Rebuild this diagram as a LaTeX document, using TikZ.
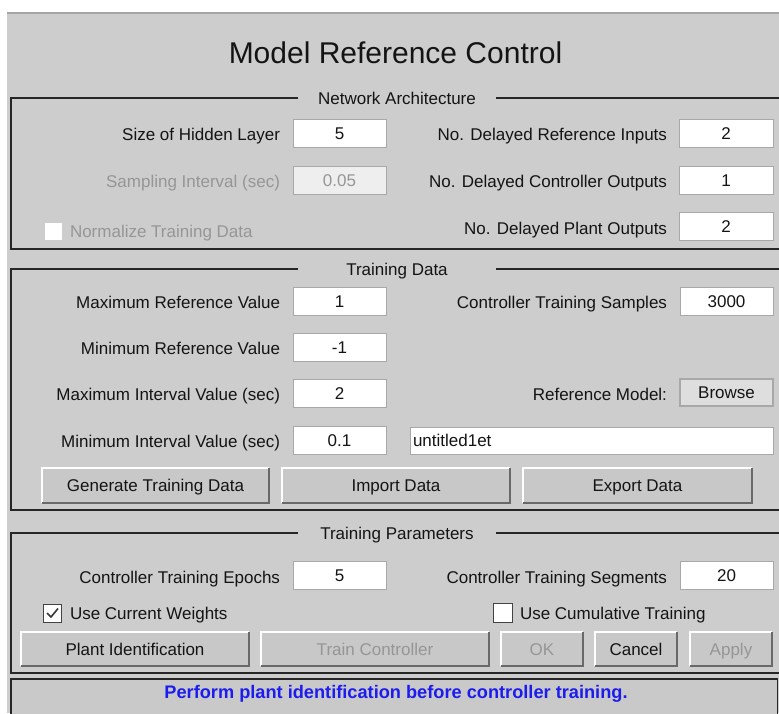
\documentclass[tikz,border=0pt]{standalone}
\usepackage{fontspec}
\setmainfont{Liberation Sans}
\definecolor{panel}{RGB}{205,205,205}
\definecolor{statusbg}{RGB}{201,201,201}
\definecolor{frameline}{RGB}{38,38,38}
\definecolor{labeltext}{RGB}{20,20,20}
\definecolor{disabledtext}{RGB}{150,150,150}
\definecolor{fieldborder}{RGB}{168,168,168}
\definecolor{fielddisabled}{RGB}{238,238,238}
\definecolor{btnface}{RGB}{200,200,200}
\definecolor{btnshadow}{RGB}{105,105,105}
\definecolor{browseface}{RGB}{222,222,222}
\definecolor{statusblue}{RGB}{28,28,238}
\definecolor{topline}{RGB}{165,165,165}
\begin{document}
\begin{tikzpicture}[x=1pt,y=-1pt,
  every node/.style={inner sep=0pt, outer sep=0pt},
  lbl/.style={font=\fontsize{17}{20}\selectfont, text height=12.2pt, text depth=0pt, text=labeltext},
  lblr/.style={lbl, anchor=east},
  lbll/.style={lbl, anchor=west},
  dis/.style={text=disabledtext},
  field/.style={lbl, draw=fieldborder, fill=white, line width=1pt, minimum width=93pt, minimum height=28pt},
  disfield/.style={field, fill=fielddisabled, text=disabledtext},
  frame/.style={draw=frameline, line width=1.6pt},
  frametitle/.style={lbl, fill=panel, minimum width=198pt},
  btn/.style={lbl, fill=btnface, minimum height=34pt},
  hilite/.style={draw=white, line width=1.5pt},
  shadowline/.style={draw=btnshadow, line width=1.5pt},
  chk/.style={fill=white, minimum size=18pt},
  chkon/.style={chk, draw=labeltext!80, line width=1pt}
]
\useasboundingbox (0,0) rectangle (779,713);
\clip (0,0) rectangle (779,713);
\fill[white] (0,0) rectangle (779,713);
\fill[panel] (7,13) rectangle (779,713);
\draw[draw=topline, line width=2pt] (7,13) -- (779,13);

% title
\node[lbl, font=\fontsize{30}{35}\selectfont, text height=21.5pt] (title) at (395.5,53) {Model Reference Control};

% frames
\draw[frame] (11,98) rectangle (785,249);
\draw[frame] (11,269) rectangle (785,510);
\draw[frame] (11,533) rectangle (785,673);
\draw[frame, fill=statusbg] (11,679) rectangle (777.5,725);
\node[frametitle] (netarch) at (397,98) {Network Architecture};
\node[frametitle] (trdata) at (397,269) {Training Data};
\node[frametitle] (trparam) at (397,533) {Training Parameters};

% ---------- Network Architecture ----------
\node[lblr] (lhid) at (280,134) {Size of Hidden Layer};
\node[field] (hid) at (339.5,133) {5};
\node[lblr, dis] (lsamp) at (280,181) {Sampling Interval (sec)};
\node[disfield] (samp) at (339.5,180) {0.05};
\node[chk, minimum size=17pt] (norm) at (53.5,231) {};
\node[lbll, dis] (lnorm) at (70,231) {Normalize Training Data};

\node[lblr] (ldri) at (667,134) {No. Delayed Reference Inputs};
\node[field, minimum width=94pt] (dri) at (726,133) {2};
\node[lblr] (ldco) at (667,181) {No. Delayed Controller Outputs};
\node[field, minimum width=94pt] (dco) at (726,180) {1};
\node[lblr] (ldpo) at (667,228) {No. Delayed Plant Outputs};
\node[field, minimum width=94pt] (dpo) at (726,226) {2};

% ---------- Training Data ----------
\node[lblr] (lmaxref) at (280,302) {Maximum Reference Value};
\node[field] (maxref) at (339.5,301) {1};
\node[lblr] (lminref) at (280,348) {Minimum Reference Value};
\node[field] (minref) at (339.5,347) {-1};
\node[lblr] (lmaxint) at (280,394) {Maximum Interval Value (sec)};
\node[field] (maxint) at (339.5,393) {2};
\node[lblr] (lminint) at (280,441) {Minimum Interval Value (sec)};
\node[field] (minint) at (339.5,440) {0.1};

\node[lblr] (lsamples) at (667,302) {Controller Training Samples};
\node[field] (samples) at (726.5,301) {3000};
\node[lblr] (lrefmodel) at (667,394) {Reference Model:};
\node[lbl, fill=browseface, draw=fieldborder, line width=1.2pt, minimum width=93pt, minimum height=27pt] (browse) at (726.5,392.5) {Browse};
\node[field, minimum height=27pt, text width=357pt, inner xsep=3pt, align=left] (model) at (591.5,440.5) {untitled1et};

\node[btn, minimum width=227pt, minimum height=35pt] (gen) at (155.5,485.5) {Generate Training Data};
\node[btn, minimum width=228pt, minimum height=35pt] (imp) at (396,485.5) {Import Data};
\node[btn, minimum width=229pt, minimum height=35pt] (exp) at (637.5,485.5) {Export Data};

% ---------- Training Parameters ----------
\node[lblr] (lepochs) at (280,577) {Controller Training Epochs};
\node[field] (epochs) at (339.5,575.5) {5};
\node[lblr] (lsegments) at (667,577) {Controller Training Segments};
\node[field] (segments) at (726.5,575) {20};

\node[chkon] (usecw) at (52.5,613) {};
\draw[draw=labeltext!85, line width=1.6pt] (usecw.center) ++(-5.5,0) -- ++(4,4) -- ++(7,-8.5);
\node[lbll] (lusecw) at (70,613) {Use Current Weights};
\node[chkon, minimum size=19pt] (usecum) at (503,612.5) {};
\node[lbll] (lusecum) at (520,613) {Use Cumulative Training};

\node[btn, minimum width=228pt] (plant) at (135,649) {Plant Identification};
\node[btn, minimum width=228pt, dis] (trainc) at (375,649) {Train Controller};
\node[btn, minimum width=82pt, dis] (ok) at (542,649) {OK};
\node[btn, minimum width=82pt] (cancel) at (636,649) {Cancel};
\node[btn, minimum width=82pt, dis] (apply) at (731,649) {Apply};

\foreach \b in {gen,imp,exp,plant,trainc,ok,cancel,apply} {
  \draw[hilite] (\b.south west) |- (\b.north east);
  \draw[shadowline] (\b.south west) -| (\b.north east);
}

% ---------- status ----------
\node[lbl, font=\bfseries\fontsize{18.2}{21}\selectfont, text height=13pt, text=statusblue] (status) at (396,692) {Perform plant identification before controller training.};
\end{tikzpicture}
\end{document}
